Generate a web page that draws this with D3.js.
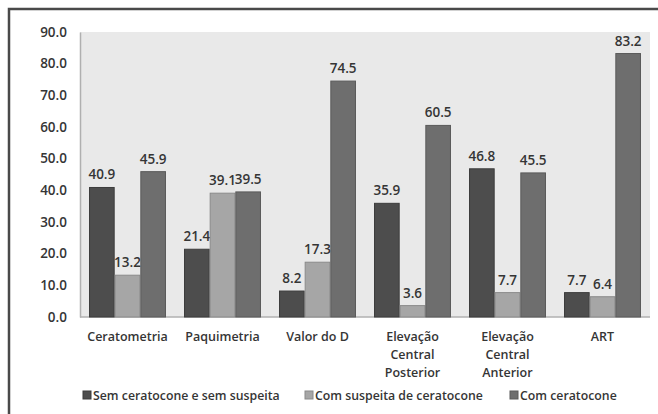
<!DOCTYPE html>
<html>
<head>
<meta charset="utf-8">
<script src="https://cdn.jsdelivr.net/npm/d3@7"></script>
<style>
	body { margin: 0; background: #fff; }
	svg text { font-family: 'Open Sans', sans-serif; font-weight: 600; fill: #353535; }
</style>
</head>
<body>
<div id="chart"></div>
<script>
'use strict';

let categories = [
	['Ceratometria'],
	['Paquimetria'],
	['Valor do D'],
	['Elevação', 'Central', 'Posterior'],
	['Elevação', 'Central', 'Anterior'],
	['ART'],
];
let series = ['Sem ceratocone e sem suspeita', 'Com suspeita de ceratocone', 'Com ceratocone'];
let semSuspeita = [40.9, 21.4, 8.2, 35.9, 46.8, 7.7];
let comSuspeita = [13.2, 39.1, 17.3, 3.6, 7.7, 6.4];
let comCeratocone = [45.9, 39.5, 74.5, 60.5, 45.5, 83.2];
let yTicks = [0, 10, 20, 30, 40, 50, 60, 70, 80, 90];

let colors = ['#4d4d4d', '#a6a6a6', '#6e6e6e'];
let strokes = ['#3c3c3c', '#8a8a8a', '#5a5a5a'];

let W = 658, H = 414;
let plot = {left: 80, right: 650, top: 32, bottom: 317};

let svg = d3.select('#chart')
	.append('svg')
		.attr('width', W)
		.attr('height', H)
	;

// outer frame (only top and left visible in picture)
svg.append('rect')
	.attr('x', 9).attr('y', 9)
	.attr('width', W + 20).attr('height', H + 20)
	.attr('fill', 'none')
	.attr('stroke', '#4a4a4a')
	.attr('stroke-width', 2.5)
	;

svg.append('rect')
	.attr('x', plot.left).attr('y', plot.top)
	.attr('width', plot.right - plot.left).attr('height', plot.bottom - plot.top)
	.attr('fill', '#e9e9e9')
	;

let x = d3.scaleBand()
	.domain(d3.range(categories.length))
	.range([plot.left, plot.right])
	.paddingInner(0.19)
	.paddingOuter(0.095)
	;
let xs = d3.scaleBand()
	.domain(d3.range(series.length))
	.range([0, x.bandwidth()])
	;
let y = d3.scaleLinear()
	.domain([0, 90])
	.range([plot.bottom, plot.top])
	;

let yAxis = svg.append('g')
	.attr('transform', 'translate(' + plot.left + ',0)')
	.call(d3.axisLeft(y).tickValues(yTicks).tickFormat(d3.format('.1f')).tickSize(0).tickPadding(13))
	;
yAxis.select('.domain').attr('stroke', '#b0b0b0').attr('stroke-width', 1.5);
yAxis.selectAll('text').attr('font-size', 13.5).style('font-family', null);

svg.append('line')
	.attr('x1', plot.left).attr('x2', plot.right)
	.attr('y1', plot.bottom).attr('y2', plot.bottom)
	.attr('stroke', '#b0b0b0')
	.attr('stroke-width', 1.5)
	;

let data = [semSuspeita, comSuspeita, comCeratocone];
let bars = svg.append('g');
for (let s = 0; s < data.length; ++s) {
	for (let i = 0; i < categories.length; ++i) {
		let v = data[s][i];
		let bx = x(i) + xs(s);
		bars.append('rect')
			.attr('x', bx + 0.5)
			.attr('y', y(v))
			.attr('width', xs.bandwidth() - 1)
			.attr('height', y(0) - y(v))
			.attr('fill', colors[s])
			.attr('stroke', strokes[s])
			.attr('stroke-width', 1)
			;
		bars.append('text')
			.attr('x', bx + xs.bandwidth() / 2)
			.attr('y', y(v) - 8)
			.attr('text-anchor', 'middle')
			.attr('font-size', 13.5)
			.text(d3.format('.1f')(v))
			;
	}
}

let xl = svg.append('g');
categories.forEach(function(lines, i) {
	let t = xl.append('text')
		.attr('text-anchor', 'middle')
		.attr('font-size', 12.5)
		;
	lines.forEach(function(ln, j) {
		t.append('tspan')
			.attr('x', x(i) + x.bandwidth() / 2)
			.attr('y', 341 + j * 18)
			.text(ln);
	});
});

let legendX = [83, 305, 510];
let legend = svg.append('g');
series.forEach(function(name, s) {
	legend.append('rect')
		.attr('x', legendX[s]).attr('y', 391)
		.attr('width', 8).attr('height', 8)
		.attr('fill', colors[s])
		.attr('stroke', strokes[s])
		;
	legend.append('text')
		.attr('x', legendX[s] + 10)
		.attr('y', 400)
		.attr('font-size', 12.3)
		.text(name)
		;
});
</script>
</body>
</html>
